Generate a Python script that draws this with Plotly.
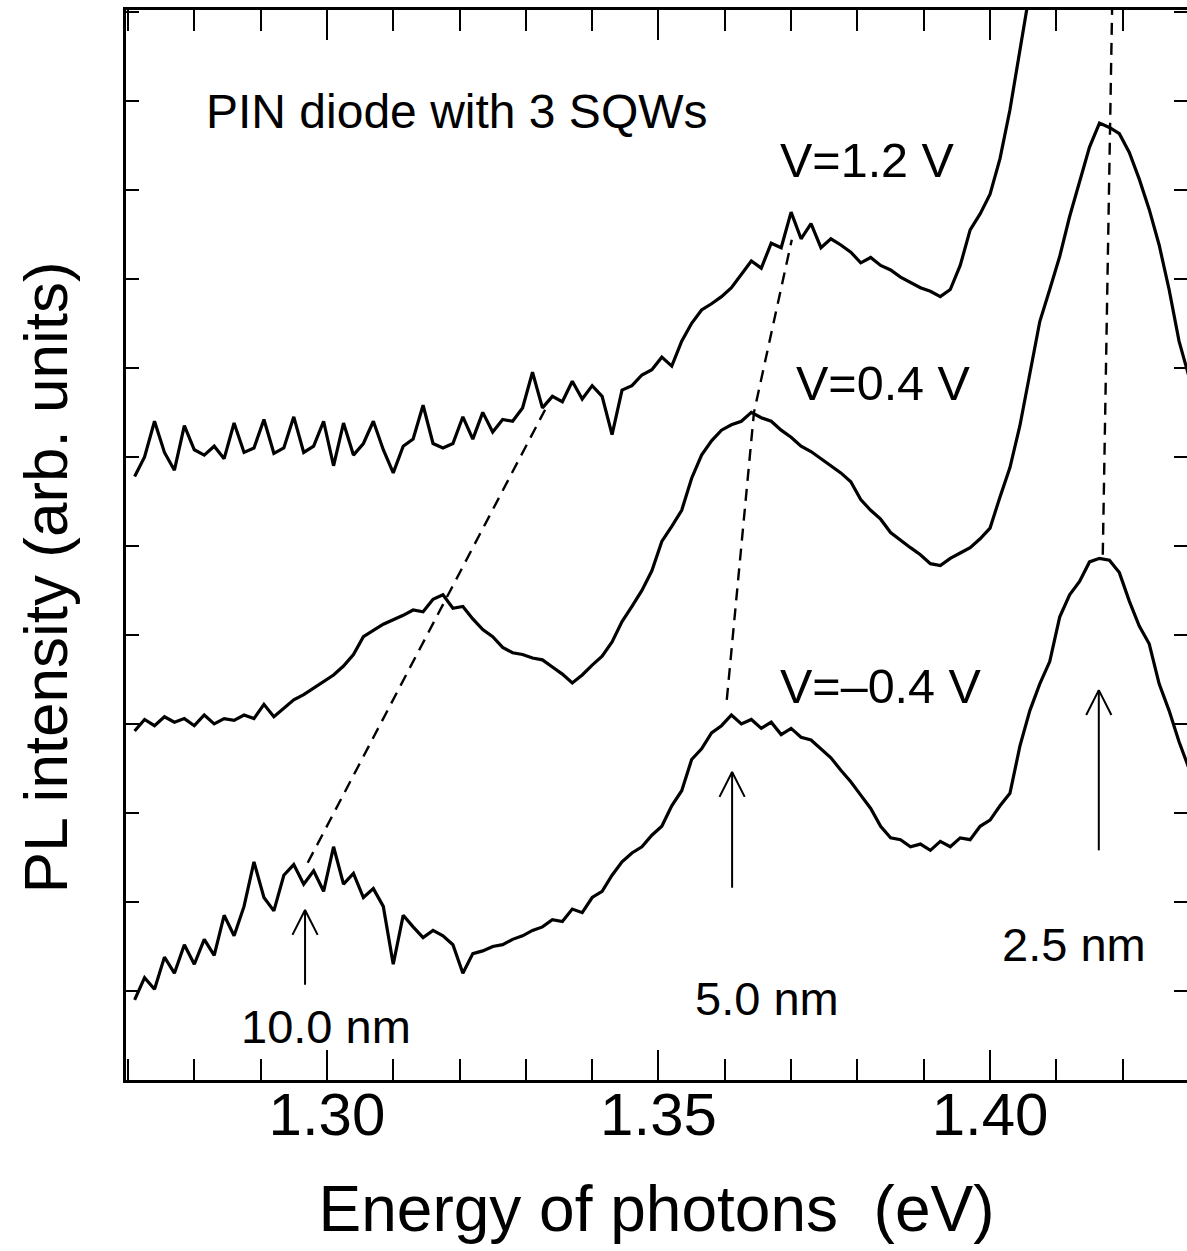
import plotly.graph_objects as go

# ---------------- data ----------------
energy = [1.2710, 1.2725, 1.2740, 1.2755, 1.2770, 1.2785, 1.2800, 1.2815, 1.2830, 1.2845,
          1.2860, 1.2875, 1.2890, 1.2905, 1.2920, 1.2935, 1.2950, 1.2965, 1.2980, 1.2995,
          1.3010, 1.3025, 1.3040, 1.3055, 1.3070, 1.3085, 1.3100, 1.3115, 1.3130, 1.3145,
          1.3160, 1.3175, 1.3190, 1.3205, 1.3220, 1.3235, 1.3250, 1.3265, 1.3280, 1.3295,
          1.3310, 1.3325, 1.3340, 1.3355, 1.3370, 1.3385, 1.3400, 1.3415, 1.3430, 1.3445,
          1.3460, 1.3475, 1.3490, 1.3505, 1.3520, 1.3535, 1.3550, 1.3565, 1.3580, 1.3595,
          1.3610, 1.3625, 1.3640, 1.3655, 1.3670, 1.3685, 1.3700, 1.3715, 1.3730, 1.3745,
          1.3760, 1.3775, 1.3790, 1.3805, 1.3820, 1.3835, 1.3850, 1.3865, 1.3880, 1.3895,
          1.3910, 1.3925, 1.3940, 1.3955, 1.3970, 1.3985, 1.4000, 1.4015, 1.4030, 1.4045,
          1.4060, 1.4075, 1.4090, 1.4105, 1.4120, 1.4135, 1.4150, 1.4165, 1.4180, 1.4195,
          1.4210, 1.4225, 1.4240, 1.4255, 1.4270, 1.4285, 1.4300]

pl_v12 = [6.78, 7.00, 7.40, 7.05, 6.85, 7.35, 7.08, 7.02, 7.12, 6.98,
          7.38, 7.05, 7.10, 7.42, 7.04, 7.10, 7.45, 7.05, 7.12, 7.40,
          6.90, 7.38, 7.02, 7.15, 7.40, 7.08, 6.82, 7.12, 7.20, 7.58,
          7.15, 7.10, 7.15, 7.45, 7.20, 7.50, 7.28, 7.42, 7.40, 7.55,
          7.95, 7.55, 7.68, 7.62, 7.85, 7.65, 7.80, 7.68, 7.25, 7.75,
          7.80, 7.92, 7.98, 8.12, 8.02, 8.30, 8.50, 8.65, 8.72, 8.80,
          8.90, 9.05, 9.20, 9.12, 9.40, 9.35, 9.75, 9.45, 9.62, 9.35,
          9.45, 9.38, 9.30, 9.18, 9.24, 9.15, 9.10, 9.02, 8.96, 8.90,
          8.86, 8.80, 8.88, 9.15, 9.55, 9.73, 9.95, 10.35, 10.90, 11.57,
          12.20, 12.90, None, None, None, None, None, None, None, None,
          None, None, None, None, None, None, None]

pl_v04 = [3.92, 4.05, 3.98, 4.08, 4.02, 4.06, 3.98, 4.10, 4.00, 4.06,
          4.04, 4.10, 4.06, 4.22, 4.08, 4.18, 4.27, 4.33, 4.40, 4.47,
          4.55, 4.65, 4.78, 4.98, 5.05, 5.12, 5.17, 5.22, 5.28, 5.26,
          5.40, 5.45, 5.30, 5.32, 5.18, 5.06, 4.98, 4.86, 4.80, 4.78,
          4.74, 4.72, 4.64, 4.56, 4.46, 4.55, 4.66, 4.76, 4.92, 5.15,
          5.32, 5.50, 5.72, 6.05, 6.22, 6.40, 6.76, 7.02, 7.18, 7.30,
          7.36, 7.40, 7.50, 7.44, 7.40, 7.30, 7.22, 7.12, 7.06, 6.98,
          6.90, 6.82, 6.72, 6.52, 6.40, 6.30, 6.15, 6.06, 5.98, 5.90,
          5.80, 5.78, 5.86, 5.92, 5.98, 6.08, 6.20, 6.55, 6.88, 7.35,
          7.95, 8.52, 8.88, 9.25, 9.70, 10.10, 10.48, 10.75, 10.70, 10.63,
          10.42, 10.12, 9.78, 9.38, 8.88, 8.30, 7.90]

pl_vm04 = [0.90, 1.15, 1.02, 1.38, 1.20, 1.52, 1.30, 1.58, 1.40, 1.85,
           1.62, 1.95, 2.45, 2.05, 1.90, 2.30, 2.42, 2.20, 2.35, 2.12,
           2.62, 2.20, 2.32, 2.05, 2.15, 1.95, 1.30, 1.85, 1.72, 1.60,
           1.68, 1.62, 1.52, 1.20, 1.42, 1.45, 1.50, 1.52, 1.58, 1.62,
           1.68, 1.72, 1.80, 1.78, 1.92, 1.88, 2.05, 2.12, 2.30, 2.45,
           2.55, 2.62, 2.75, 2.85, 3.08, 3.25, 3.60, 3.72, 3.90, 3.98,
           4.10, 4.00, 4.05, 3.95, 4.02, 3.88, 3.95, 3.85, 3.82, 3.72,
           3.62, 3.48, 3.35, 3.20, 3.05, 2.85, 2.72, 2.70, 2.62, 2.65,
           2.58, 2.68, 2.62, 2.72, 2.70, 2.85, 2.92, 3.08, 3.22, 3.75,
           4.15, 4.45, 4.70, 5.20, 5.45, 5.60, 5.82, 5.86, 5.84, 5.70,
           5.38, 5.10, 4.90, 4.45, 4.15, 3.80, 3.50]

# peak-shift guide lines (energy, intensity)
guide_10nm_x = [1.2971, 1.3329]
guide_10nm_y = [2.44, 7.53]
guide_5nm_x = [1.3603, 1.3644, 1.3701]
guide_5nm_y = [4.27, 7.50, 9.44]
guide_25nm_x = [1.4170, 1.4181, 1.4184]
guide_25nm_y = [5.90, 10.76, 12.02]

# arrows: energy, head, tail
arrow_e = [1.2967, 1.3611, 1.4164]
arrow_head = [1.91, 3.46, 4.38]
arrow_tail = [1.07, 2.16, 2.58]
head_half_width = 0.0019   # eV
head_length = 0.28         # intensity units

well_labels = ["10.0 nm", "5.0 nm", "2.5 nm"]
well_label_x = [1.2999, 1.3663, 1.4126]
well_label_y = [0.60, 0.92, 1.52]

volt_labels = ["V=1.2 V", "V=0.4 V", "V=\u20130.4 V"]
volt_label_x = [1.3680, 1.3704, 1.3680]
volt_label_y = [10.34, 7.83, 4.43]

x_ticks = [1.30, 1.35, 1.40]
x_ticktext = ["1.30", "1.35", "1.40"]

FONT = "Liberation Sans, Arial, Helvetica, sans-serif"

fig = go.Figure()
for ys in (pl_v12, pl_v04, pl_vm04):
    fig.add_trace(go.Scatter(x=energy, y=ys, mode="lines",
                             line=dict(color="black", width=3.2),
                             connectgaps=False, showlegend=False, hoverinfo="skip"))

for gx, gy in ((guide_10nm_x, guide_10nm_y), (guide_5nm_x, guide_5nm_y),
               (guide_25nm_x, guide_25nm_y)):
    fig.add_trace(go.Scatter(x=gx, y=gy, mode="lines",
                             line=dict(color="black", width=2.4, dash="12px,8px"),
                             showlegend=False, hoverinfo="skip"))

# arrows: shaft plus open V head
ax_, ay_ = [], []
for e, h, t in zip(arrow_e, arrow_head, arrow_tail):
    ax_ += [e, e, None, e - head_half_width, e, e + head_half_width, None]
    ay_ += [t, h, None, h - head_length, h, h - head_length, None]
fig.add_trace(go.Scatter(x=ax_, y=ay_, mode="lines", line=dict(color="black", width=2),
                         showlegend=False, hoverinfo="skip"))

# invisible trace on the mirrored right axis (for its ticks)
fig.add_trace(go.Scatter(x=energy, y=pl_vm04, yaxis="y2", mode="lines",
                         line=dict(width=0), opacity=0, showlegend=False, hoverinfo="skip"))

for txt, x, y in zip(well_labels, well_label_x, well_label_y):
    fig.add_annotation(x=x, y=y, text=txt, showarrow=False, xanchor="center", yanchor="middle",
                       font=dict(family=FONT, size=47, color="black"))

for txt, x, y in zip(volt_labels, volt_label_x, volt_label_y):
    fig.add_annotation(x=x, y=y, text=txt, showarrow=False, xanchor="left", yanchor="middle",
                       font=dict(family=FONT, size=48.5, color="black"))

fig.add_annotation(x=1.2814, y=10.88, text="PIN diode with 3 SQWs", showarrow=False,
                   xanchor="left", yanchor="middle", font=dict(family=FONT, size=48, color="black"))

# y-axis title
fig.add_annotation(x=-0.0763, y=0.470, xref="paper", yref="paper", text="PL intensity (arb. units)",
                   textangle=-90, showarrow=False, xanchor="center", yanchor="middle",
                   font=dict(family=FONT, size=62, color="black"))

fig.update_layout(
    width=1187, height=1251,
    margin=dict(l=126, r=0, t=10, b=171),
    paper_bgcolor="white", plot_bgcolor="white",
    font=dict(family=FONT, color="black"),
    xaxis=dict(range=[1.2697, 1.4297], tickvals=x_ticks, ticktext=x_ticktext,
               ticks="inside", ticklen=30, tickwidth=2, tickcolor="black",
               ticklabelstandoff=-20,
               showline=True, linewidth=3, linecolor="black", mirror="ticks",
               showgrid=False, zeroline=False,
               minor=dict(tick0=1.27, dtick=0.01, ticks="inside", ticklen=21,
                          tickwidth=2, tickcolor="black", showgrid=False),
               tickfont=dict(family=FONT, size=60, color="black"),
               title=dict(text="Energy of photons\u00a0 (eV)", standoff=40,
                          font=dict(family=FONT, size=64, color="black"))),
    yaxis=dict(range=[0, 12.02], tick0=0, dtick=1, ticks="inside", ticklen=13,
               tickwidth=2, tickcolor="black", showticklabels=False,
               showline=True, linewidth=3, linecolor="black",
               showgrid=False, zeroline=False),
    yaxis2=dict(range=[0, 12.02], tick0=0, dtick=1, ticks="inside", ticklen=13,
                tickwidth=2, tickcolor="black", showticklabels=False, overlaying="y",
                side="right", showline=False, showgrid=False, zeroline=False),
)

fig.write_html("out.html")
